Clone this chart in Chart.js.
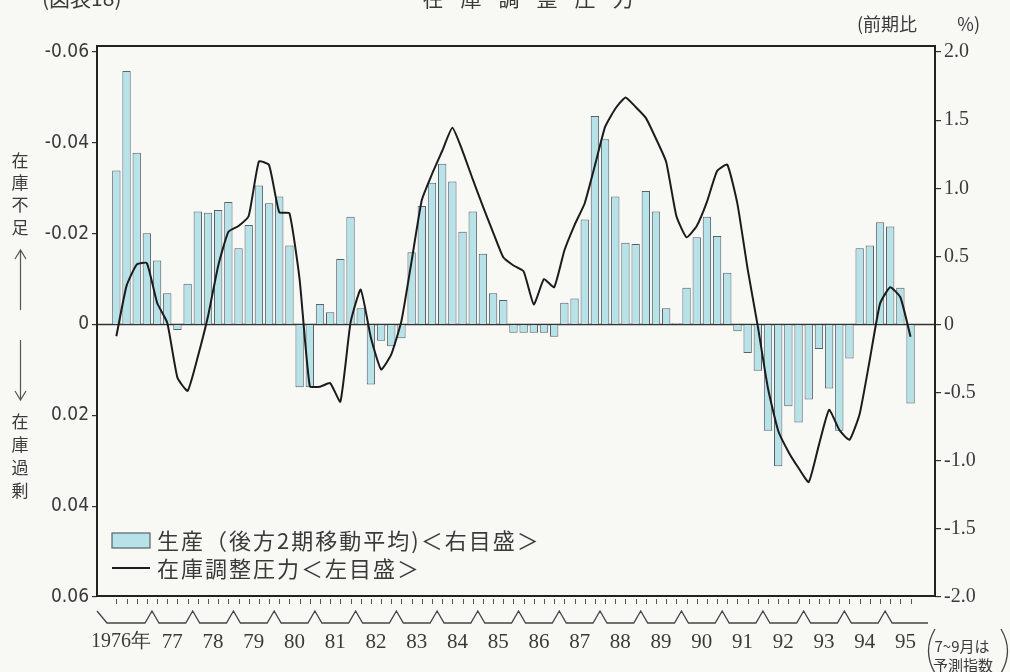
<!DOCTYPE html>
<html>
<head>
<meta charset="utf-8">
<script src="https://cdn.jsdelivr.net/npm/chart.js@4.4.1/dist/chart.umd.min.js"></script>
<style>
  html, body { margin: 0; padding: 0; background: #f8f8f5; }
  #wrap { width: 1010px; height: 672px; }
</style>
</head>
<body>
<div id="wrap"><canvas id="chart" width="1010" height="672"></canvas></div>
<script>
// Year labels under the axis (one per year, quarterly data)
const years = ['1976年', '77', '78', '79', '80', '81', '82', '83', '84', '85',
  '86', '87', '88', '89', '90', '91', '92', '93', '94', '95'];

// 生産（後方2期移動平均） 前期比 %, 1976 Q1 .. 1995 Q3 (right axis)
const production = [
  1.13, 1.86, 1.26, 0.67,
  0.47, 0.23, -0.04, 0.30,
  0.83, 0.82, 0.84, 0.90,
  0.56, 0.73, 1.02, 0.89,
  0.94, 0.58, -0.46, -0.46,
  0.15, 0.09, 0.48, 0.79,
  0.12, -0.44, -0.12, -0.16,
  -0.10, 0.53, 0.87, 1.04,
  1.18, 1.05, 0.68, 0.83,
  0.52, 0.23, 0.18, -0.06,
  -0.06, -0.06, -0.06, -0.09,
  0.16, 0.19, 0.77, 1.53,
  1.36, 0.94, 0.60, 0.59,
  0.98, 0.83, 0.12, 0.01,
  0.27, 0.64, 0.79, 0.65,
  0.38, -0.05, -0.21, -0.34,
  -0.78, -1.04, -0.60, -0.72,
  -0.55, -0.18, -0.47, -0.78,
  -0.25, 0.56, 0.58, 0.75,
  0.72, 0.27, -0.58
];

// 在庫調整圧力, same quarters (left axis, reversed)
const pressure = [
  0.0026, -0.0085, -0.0132, -0.0135,
  -0.0048, -0.0004, 0.0117, 0.0146,
  0.0071, -0.0018, -0.0129, -0.0204,
  -0.0217, -0.0239, -0.0359, -0.0351,
  -0.0247, -0.0245, -0.0099, 0.0136,
  0.0137, 0.0129, 0.0170, -0.0004,
  -0.0077, 0.0029, 0.0099, 0.0066,
  -0.0008, -0.0140, -0.0274, -0.0331,
  -0.0382, -0.0433, -0.0382, -0.0320,
  -0.0260, -0.0203, -0.0148, -0.0130,
  -0.0117, -0.0044, -0.0100, -0.0082,
  -0.0163, -0.0219, -0.0267, -0.0350,
  -0.0435, -0.0475, -0.0500, -0.0479,
  -0.0455, -0.0409, -0.0358, -0.0239,
  -0.0192, -0.0217, -0.0270, -0.0338,
  -0.0352, -0.0265, -0.0122, 0.0004,
  0.0141, 0.0234, 0.0280, 0.0316,
  0.0347, 0.0265, 0.0188, 0.0232,
  0.0254, 0.0197, 0.0077, -0.0046,
  -0.0082, -0.0060, 0.0027
];

const leftTicks = ['-0.06', '-0.04', '-0.02', '0', '0.02', '0.04', '0.06'];
const rightTicks = ['-2.0', '-1.5', '-1.0', '-0.5', '0', '0.5', '1.0', '1.5', '2.0'];

const TEXT = '#3a3a3a';
const JP = "'Noto Sans CJK JP', sans-serif";
const SERIF = "'Liberation Serif', serif";

// page background
const background = {
  id: 'background',
  beforeDraw(chart) {
    const ctx = chart.ctx;
    ctx.save();
    ctx.fillStyle = '#f8f8f5';
    ctx.fillRect(0, 0, chart.width, chart.height);
    ctx.restore();
  }
};

// zero line under the bars
const zeroLine = {
  id: 'zeroLine',
  beforeDatasetsDraw(chart) {
    const { ctx, chartArea } = chart;
    const y = chart.scales.yR.getPixelForValue(0);
    ctx.save();
    ctx.strokeStyle = '#333';
    ctx.lineWidth = 1.3;
    ctx.beginPath();
    ctx.moveTo(chartArea.left, y);
    ctx.lineTo(chartArea.right, y);
    ctx.stroke();
    ctx.restore();
  }
};

// frame, year braces, titles, legend and side notes
const decorations = {
  id: 'decorations',
  afterDraw(chart) {
    const { ctx, chartArea } = chart;
    const x = chart.scales.x;
    const { left, right, top, bottom } = chartArea;
    ctx.save();

    // frame
    ctx.strokeStyle = '#222';
    ctx.lineWidth = 2;
    ctx.strokeRect(left, top - 6, right - left, bottom - top + 5);

    // quarter ticks below the frame
    ctx.strokeStyle = '#555';
    ctx.lineWidth = 1;
    ctx.beginPath();
    for (let i = 0; i < production.length; i++) {
      const px = Math.round(x.getPixelForValue(i)) + 0.5;
      ctx.moveTo(px, bottom + 2);
      ctx.lineTo(px, bottom + 7);
    }
    ctx.stroke();

    // year braces
    const peakY = 611, lowY = 623, run = 7;
    ctx.strokeStyle = '#444';
    ctx.lineWidth = 1.3;
    ctx.beginPath();
    ctx.moveTo(left, peakY);
    ctx.lineTo(left + run + 3, lowY);
    for (let k = 1; k < years.length; k++) {
      const bx = x.getPixelForValue(k * 4 - 0.5);
      ctx.lineTo(bx - run, lowY);
      ctx.lineTo(bx, peakY);
      ctx.lineTo(bx + run, lowY);
    }
    ctx.lineTo(928, lowY);
    ctx.stroke();

    // year labels
    ctx.fillStyle = TEXT;
    ctx.textBaseline = 'middle';
    years.forEach((label, k) => {
      if (k === 0) {
        ctx.font = '20px ' + SERIF;
        ctx.textAlign = 'right';
        ctx.fillText(label, x.getPixelForValue(3.5) - 1, 642);
      } else {
        ctx.font = '21px ' + SERIF;
        ctx.textAlign = 'center';
        ctx.fillText(label, x.getPixelForValue(k * 4 + 1.5), 642);
      }
    });

    // (7~9月は予測指数)
    ctx.strokeStyle = '#444';
    ctx.lineWidth = 1.3;
    ctx.beginPath();
    ctx.moveTo(935, 629);
    ctx.quadraticCurveTo(922, 651, 935, 673);
    ctx.moveTo(1001, 629);
    ctx.quadraticCurveTo(1014, 651, 1001, 673);
    ctx.stroke();
    ctx.font = '15px ' + JP;
    ctx.textAlign = 'center';
    ctx.fillText('7~9月は', 962, 646);
    ctx.fillText('予測指数', 963, 665);

    // titles (cut off at the top edge)
    ctx.font = '21px ' + JP;
    ctx.textBaseline = 'alphabetic';
    ctx.textAlign = 'left';
    ctx.fillText('(図表18)', 42, 6);
    ctx.textAlign = 'center';
    Array.from('在庫調整圧力').forEach((ch, i) => {
      ctx.fillText(ch, 433 + i * 38, 6);
    });

    // unit of the right axis
    ctx.font = '18px ' + JP;
    ctx.textBaseline = 'middle';
    ctx.textAlign = 'left';
    ctx.fillText('(前期比', 857, 24);
    ctx.textAlign = 'right';
    ctx.fillText('%)', 980, 24);

    // left side notes
    ctx.font = '17px ' + JP;
    ctx.textAlign = 'center';
    const sx = 20;
    [['在', 161], ['庫', 183], ['不', 205], ['足', 228]].forEach(([c, y]) => ctx.fillText(c, sx, y));
    [['在', 422], ['庫', 445], ['過', 468], ['剰', 491]].forEach(([c, y]) => ctx.fillText(c, sx, y));
    ctx.strokeStyle = '#555';
    ctx.lineWidth = 1.2;
    ctx.beginPath();
    ctx.moveTo(sx + 0.5, 250); ctx.lineTo(sx + 0.5, 310);
    ctx.moveTo(sx - 5, 259); ctx.lineTo(sx + 0.5, 250); ctx.lineTo(sx + 6, 259);
    ctx.moveTo(sx + 0.5, 340); ctx.lineTo(sx + 0.5, 400);
    ctx.moveTo(sx - 5, 391); ctx.lineTo(sx + 0.5, 400); ctx.lineTo(sx + 6, 391);
    ctx.stroke();

    // legend
    const barSet = chart.data.datasets[1];
    const lineSet = chart.data.datasets[0];
    ctx.fillStyle = barSet.backgroundColor;
    ctx.fillRect(112, 533, 38, 15);
    ctx.strokeStyle = barSet.borderColor;
    ctx.lineWidth = 1.2;
    ctx.strokeRect(112, 533, 38, 15);
    ctx.strokeStyle = lineSet.borderColor;
    ctx.lineWidth = 2;
    ctx.beginPath();
    ctx.moveTo(112, 568);
    ctx.lineTo(150, 568);
    ctx.stroke();
    ctx.fillStyle = TEXT;
    ctx.font = '22px ' + JP;
    ctx.letterSpacing = '2px';
    ctx.textAlign = 'left';
    ctx.fillText(barSet.label, 157, 541);
    ctx.fillText(lineSet.label, 157, 569);

    ctx.restore();
  }
};

new Chart(document.getElementById('chart'), {
  type: 'bar',
  data: {
    datasets: [
      {
        type: 'line',
        label: '在庫調整圧力＜左目盛＞',
        data: pressure.map((v, i) => ({ x: i, y: v })),
        yAxisID: 'yL',
        borderColor: '#1c1c1c',
        borderWidth: 2,
        pointRadius: 0,
        tension: 0.15,
        order: 0
      },
      {
        label: '生産（後方2期移動平均)＜右目盛＞',
        data: production.map((v, i) => ({ x: i, y: v })),
        yAxisID: 'yR',
        backgroundColor: '#b6e2e8',
        borderColor: '#56616a',
        borderWidth: 1,
        barPercentage: 0.82,
        categoryPercentage: 1,
        order: 1
      }
    ]
  },
  options: {
    responsive: false,
    animation: false,
    layout: { padding: { top: 52, bottom: 75, left: 0, right: 0 } },
    plugins: { legend: { display: false }, tooltip: { enabled: false } },
    scales: {
      x: {
        type: 'linear',
        min: -1.9,
        max: 80.4,
        offset: false,
        display: false
      },
      yL: {
        position: 'left',
        min: -0.06,
        max: 0.06,
        reverse: true,
        afterFit: (scale) => { scale.width = 97; },
        border: { display: false },
        grid: { drawOnChartArea: false, tickLength: 5, color: '#333', lineWidth: 1.2 },
        ticks: {
          stepSize: 0.02,
          padding: 3,
          color: TEXT,
          font: { family: "'DejaVu Sans Condensed', 'Liberation Sans Narrow', sans-serif", size: 19 },
          callback: (value) => leftTicks[Math.round((value + 0.06) / 0.02)]
        }
      },
      yR: {
        position: 'right',
        min: -2,
        max: 2,
        afterFit: (scale) => { scale.width = 75; },
        border: { display: false },
        grid: { drawOnChartArea: false, tickLength: 6, color: '#333', lineWidth: 1.2 },
        ticks: {
          stepSize: 0.5,
          padding: 3,
          color: TEXT,
          font: { family: SERIF, size: 20 },
          callback: (value) => rightTicks[Math.round((value + 2) / 0.5)]
        }
      }
    }
  },
  plugins: [background, zeroLine, decorations]
});
</script>
</body>
</html>
